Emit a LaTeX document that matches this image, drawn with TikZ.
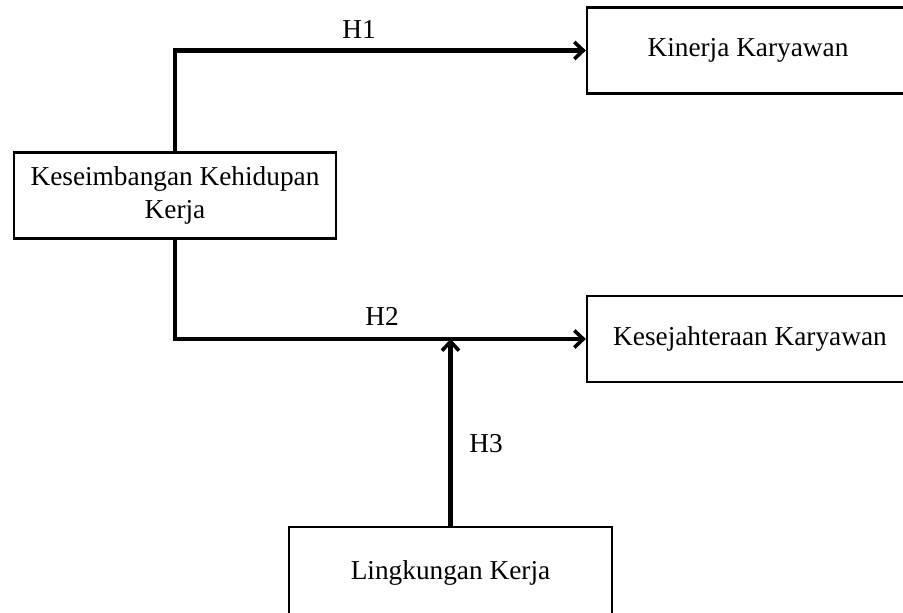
\documentclass[tikz,border=0pt]{standalone}
\usepackage{fontspec}
\setmainfont{Liberation Serif}
\usetikzlibrary{arrows.meta}
\tikzset{kotak/.style={draw, line width=2.2pt, minimum height=86pt, align=center, inner sep=0pt, font=\fontsize{27.3}{33}\selectfont},
panah/.style={line width=4.4pt, -{Straight Barb[length=9pt,width=17pt,line width=3.6pt]}},
hlabel/.style={font=\fontsize{27.3}{33}\selectfont}}

\begin{document}
\begin{tikzpicture}[x=1pt,y=-1pt]
\useasboundingbox (0,0) rectangle (903,613);
\clip (0,0) rectangle (903,613);
\node [kotak, minimum width=322pt] (kkk) at (175,195.5) {Keseimbangan Kehidupan\\Kerja};
\node [kotak, minimum width=322pt] (kin) at (748,50.5) {Kinerja Karyawan};
\node [kotak, minimum width=326pt] (kes) at (750,339) {Kesejahteraan Karyawan};
\node [kotak, minimum width=323pt, minimum height=92pt] (lk) at (450.5,573) {Lingkungan Kerja};
\draw [panah] (kkk.north) |- (kin.west);
\draw [panah] (kkk.south) |- (kes.west);
\coordinate (temu) at (lk.north |- kes.west);
\draw [panah] (lk.north) -- (temu);
\node [hlabel] (h1) at (359,29) {H1};
\node [hlabel] (h2) at (382,316) {H2};
\node [hlabel] (h3) at (486,444) {H3};

\end{tikzpicture}
\end{document}
